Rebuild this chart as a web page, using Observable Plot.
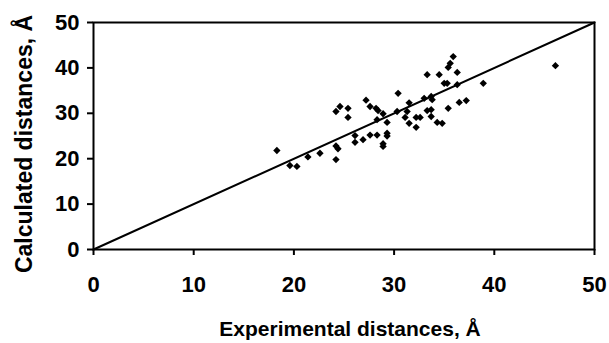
<!DOCTYPE html>
<html>
<head>
<meta charset="utf-8">
<script src="https://cdn.jsdelivr.net/npm/d3@7"></script>
<script src="https://cdn.jsdelivr.net/npm/@observablehq/plot@0.6"></script>
<style>
  html, body { margin: 0; padding: 0; background: #fff; }
</style>
</head>
<body>
<div id="chart"></div>
<script>
const experimental = [18.3, 19.6, 20.3, 21.4, 22.6, 24.2, 24.4, 24.2, 26.1, 26.1, 26.9, 27.6, 28.3,
  24.2, 24.6, 25.4, 25.4, 27.2, 27.6, 28.2, 28.4, 28.9, 28.3, 29.3, 29.3, 29.3, 28.9, 28.9,
  30.4, 30.3, 31.3, 31.5, 31.1, 31.5, 32.2, 32.2, 32.6, 33.0, 33.3, 33.7, 33.7, 33.8, 33.7,
  34.3, 34.8, 35.4, 33.3, 34.5, 35.0, 35.3, 35.9, 35.6, 35.4, 36.3, 36.3, 36.5, 37.2, 38.9, 46.1];
const calculated = [21.8, 18.5, 18.3, 20.4, 21.2, 22.8, 22.2, 19.8, 25.1, 23.6, 24.2, 25.2, 25.2,
  30.4, 31.5, 31.1, 29.1, 32.9, 31.5, 31.1, 30.6, 29.9, 28.6, 28.0, 25.6, 25.0, 23.3, 22.7,
  34.4, 30.4, 30.4, 32.3, 29.1, 27.8, 29.1, 26.9, 29.1, 33.3, 30.6, 30.8, 33.7, 33.0, 29.3,
  28.0, 27.8, 31.1, 38.5, 38.5, 36.6, 36.6, 42.5, 41.0, 40.1, 39.0, 36.3, 32.4, 32.8, 36.6, 40.5];
const lineX = [0, 50];
const lineY = [0, 50];
const ticks = [0, 10, 20, 30, 40, 50];
const xTitle = "Experimental distances, Å";
const yTitle = "Calculated distances, Å";

const points = experimental.map((x, i) => ({x, y: calculated[i]}));
const diag = lineX.map((x, i) => ({x, y: lineY[i]}));

const chart = Plot.plot({
  width: 609,
  height: 343,
  marginLeft: 93,
  marginRight: 15,
  marginTop: 22,
  marginBottom: 94,
  style: {fontFamily: "'Liberation Sans', Arial, sans-serif", fontWeight: "bold", fontSize: "22px", color: "#000", background: "#fff", overflow: "visible"},
  x: {domain: [0, 50]},
  y: {domain: [0, 50]},
  marks: [
    Plot.frame({stroke: "#000", strokeWidth: 2}),
    Plot.axisX({ticks, tickSize: 6, tickPadding: 21, label: null, strokeWidth: 2, fontSize: 22}),
    Plot.axisY({ticks, tickSize: 6, tickPadding: 8, label: null, strokeWidth: 2, fontSize: 22}),
    Plot.line(diag, {x: "x", y: "y", stroke: "#000", strokeWidth: 2}),
    Plot.dot(points, {x: "x", y: "y", symbol: "diamond2", r: 3.3, fill: "#000", stroke: "none"}),
    Plot.text([xTitle], {frameAnchor: "bottom", dy: 86, dx: 6, textAnchor: "middle", fontSize: 21, fontWeight: "bold"}),
    Plot.text([yTitle], {frameAnchor: "left", dx: -69, dy: 8, textAnchor: "middle", rotate: -90, fontSize: 23, fontWeight: "bold"})
  ]
});
document.getElementById("chart").appendChild(chart);
</script>
</body>
</html>
